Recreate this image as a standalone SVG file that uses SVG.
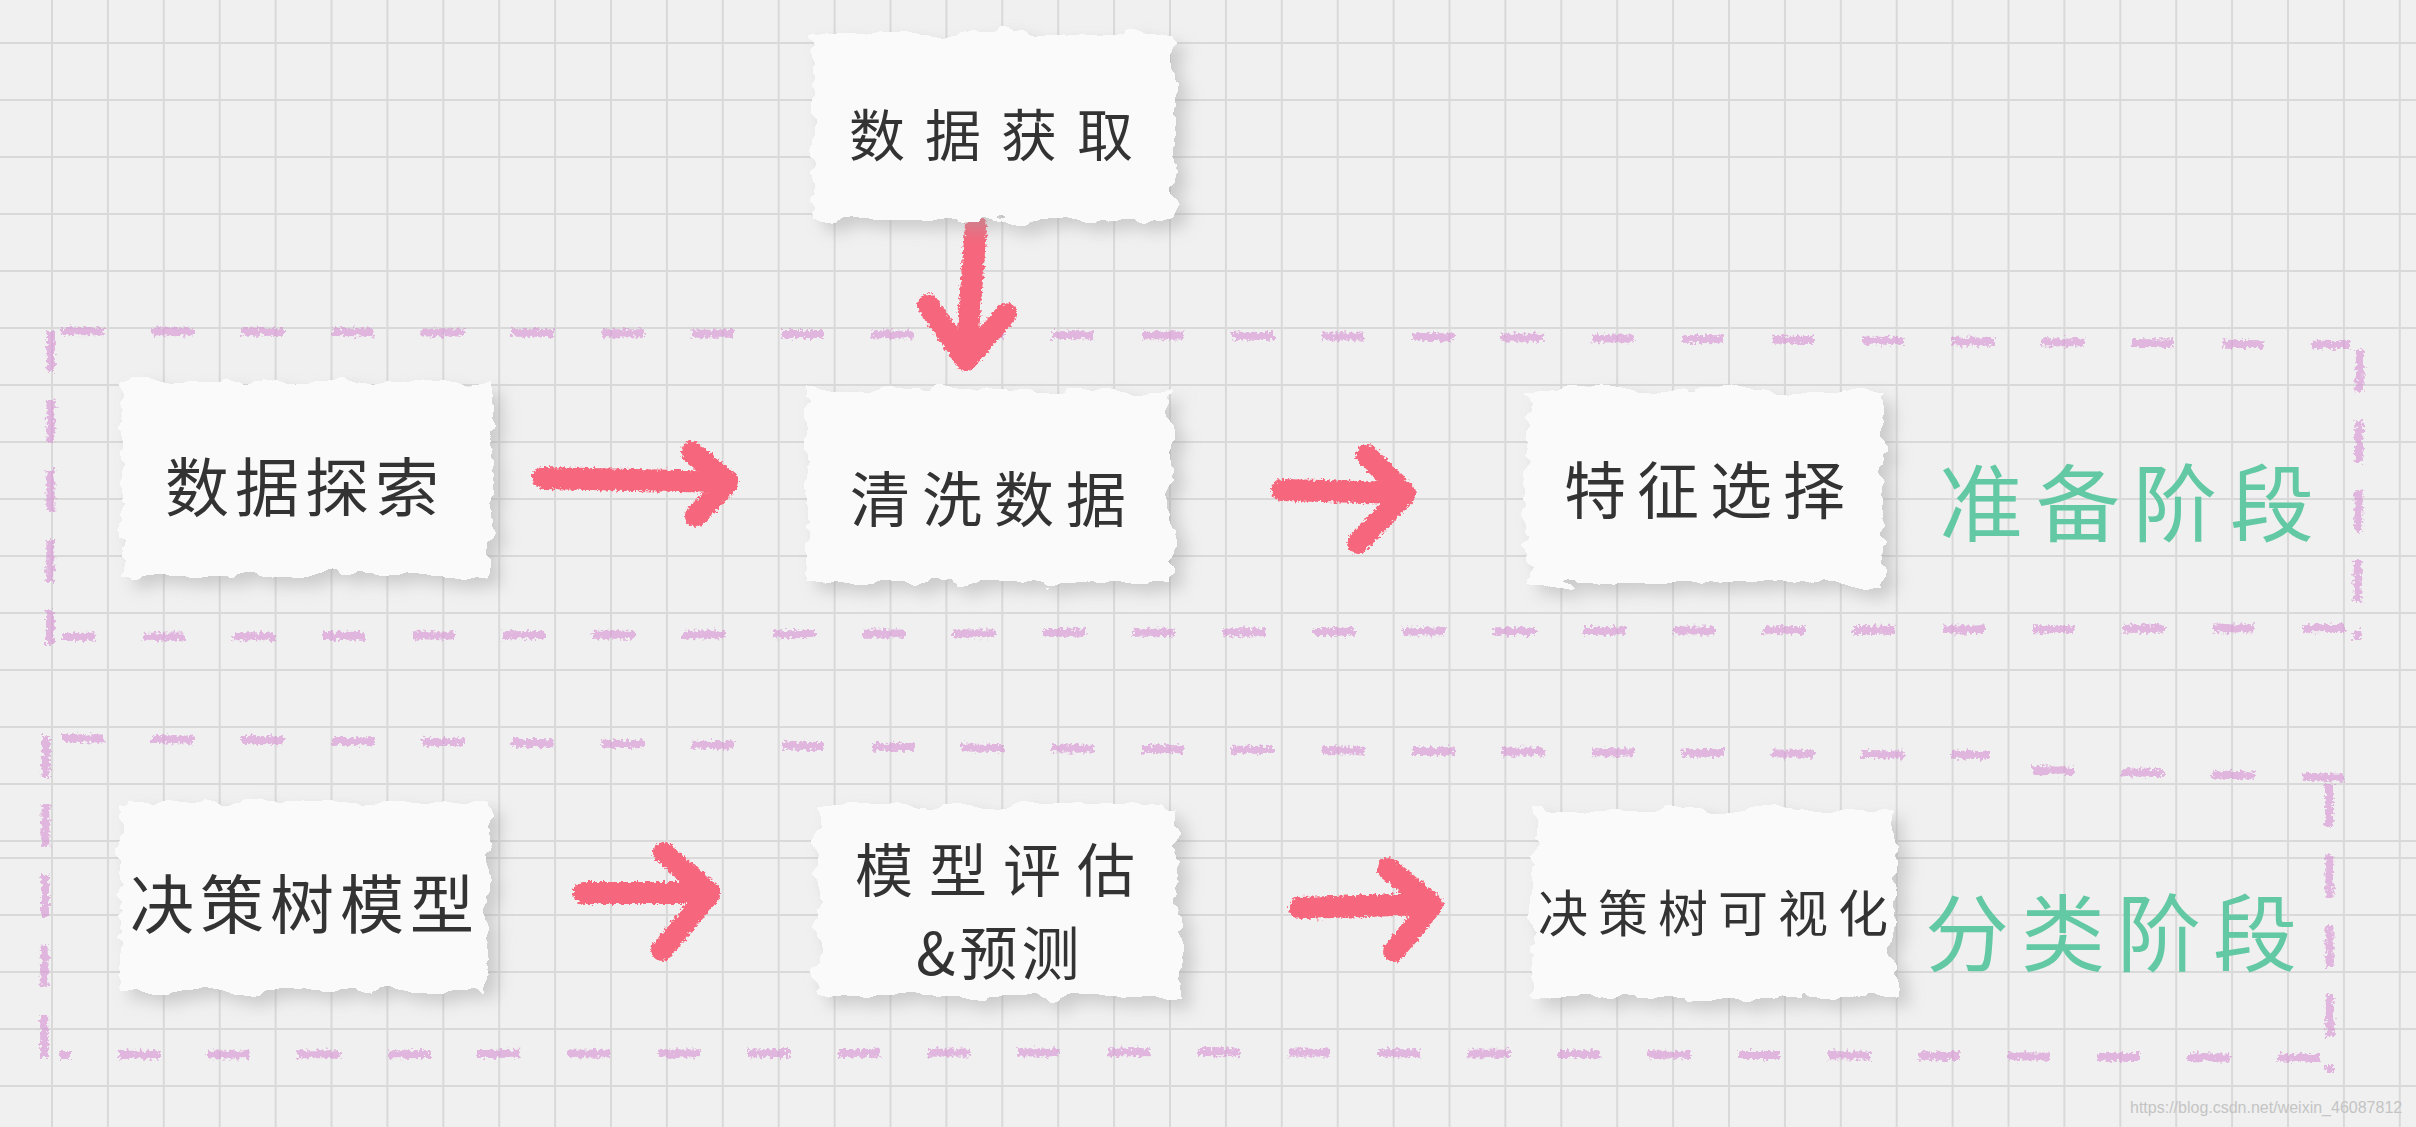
<svg xmlns="http://www.w3.org/2000/svg" width="2416" height="1127" viewBox="0 0 2416 1127">
<defs>
<style>
.paper{fill:#fbfafb;}
.lbl{font-family:"Noto Sans CJK SC","Noto Sans",sans-serif;fill:#333;font-weight:400;dominant-baseline:central;}
.stage{font-family:"Noto Sans CJK SC","Noto Sans",sans-serif;fill:#62c9a4;dominant-baseline:central;}
.arrow{fill:none;stroke:#f6667c;stroke-width:22;stroke-linecap:round;stroke-linejoin:round;}
.dash{fill:none;stroke:#d68fd2;stroke-width:8;stroke-opacity:0.6;stroke-linecap:butt;}
.dh{stroke-dasharray:42 48;}
.dv{stroke-dasharray:42 28;}
.wm{font-family:"Liberation Sans",Arial,sans-serif;fill:#c4c4c4;font-size:16px;}
</style>
<pattern id="gridA" x="51" y="42" width="55.9" height="57" patternUnits="userSpaceOnUse">
<path d="M1 0V57M0 1H55.9" stroke="#d9d9d9" stroke-width="2" fill="none"/>
</pattern>
<pattern id="gridB" x="51" y="2" width="55.9" height="57" patternUnits="userSpaceOnUse">
<path d="M1 0V57M0 1H55.9" stroke="#d9d9d9" stroke-width="2" fill="none"/>
</pattern>
<filter id="torn" x="-15%" y="-15%" width="135%" height="140%">
<feTurbulence type="fractalNoise" baseFrequency="0.025 0.05" numOctaves="3" seed="4" result="n"/>
<feDisplacementMap in="SourceGraphic" in2="n" scale="22" xChannelSelector="R" yChannelSelector="G" result="d"/>
<feGaussianBlur in="d" stdDeviation="8" result="b"/>
<feOffset in="b" dx="10" dy="9" result="o"/>
<feColorMatrix in="o" type="matrix" values="0 0 0 0 0.35  0 0 0 0 0.35  0 0 0 0 0.35  0 0 0 0.45 0" result="s"/>
<feMerge><feMergeNode in="s"/><feMergeNode in="d"/></feMerge>
</filter>
<filter id="crayon" x="-10%" y="-10%" width="120%" height="120%">
<feTurbulence type="fractalNoise" baseFrequency="0.35" numOctaves="2" seed="2" result="n"/>
<feDisplacementMap in="SourceGraphic" in2="n" scale="7" xChannelSelector="R" yChannelSelector="G"/>
</filter>
<filter id="scrib" x="-5%" y="-20%" width="110%" height="140%">
<feTurbulence type="fractalNoise" baseFrequency="0.3" numOctaves="2" seed="7" result="n"/>
<feDisplacementMap in="SourceGraphic" in2="n" scale="9" xChannelSelector="R" yChannelSelector="G"/>
</filter>
</defs>

<rect width="2416" height="1127" fill="#f0f0f0"/>
<rect x="0" y="0" width="2416" height="857" fill="url(#gridA)"/>
<rect x="0" y="857" width="2416" height="270" fill="url(#gridB)"/>

<g id="stage-borders" filter="url(#scrib)">
<path class="dash dh" d="M62 331 L1300 336 L1700 339 L2350 345"/>
<path class="dash dv" d="M2360 350 L2357 640"/>
<path class="dash dh" d="M2345 628 L1300 632 L62 637"/>
<path class="dash dv" d="M51 330 L50 645"/>
<path class="dash dh" d="M62 738 L1000 748 L1990 755"/>
<path class="dash dh" d="M2032 770 L2350 778"/>
<path class="dash dv" d="M2329 785 L2330 1072"/>
<path class="dash dh" d="M2320 1058 L1200 1052 L60 1055"/>
<path class="dash dv" d="M46 735 L44 1068"/>
</g>

<g id="connectors" filter="url(#crayon)">
<path class="arrow" d="M976 226 L966 358 M928 305 L966 360 L1006 314"/>
<path class="arrow" d="M543 478 L726 482 M692 452 L728 482 L696 516"/>
<path class="arrow" d="M1282 490 L1402 493 M1367 455 L1405 494 L1358 543"/>
<path class="arrow" d="M584 893 L706 893 M664 853 L710 893 L662 950"/>
<path class="arrow" d="M1300 908 L1428 904 M1388 868 L1432 905 L1394 951"/>
</g>

<g id="node-acquire">
<rect class="paper" x="812" y="32" width="362" height="188" filter="url(#torn)"/>
<text class="lbl" x="849" y="131" font-size="56" letter-spacing="20">数据获取</text>
</g>
<g id="node-explore">
<rect class="paper" x="122" y="382" width="370" height="194" filter="url(#torn)"/>
<text class="lbl" x="165" y="483" font-size="64" letter-spacing="6">数据探索</text>
</g>
<g id="node-clean">
<rect class="paper" x="806" y="388" width="364" height="194" filter="url(#torn)"/>
<text class="lbl" x="850" y="495" font-size="60" letter-spacing="12">清洗数据</text>
</g>
<g id="node-feature">
<rect class="paper" x="1525" y="390" width="358" height="193" filter="url(#torn)"/>
<text class="lbl" x="1564" y="487" font-size="62" letter-spacing="11">特征选择</text>
</g>
<g id="node-model">
<rect class="paper" x="120" y="802" width="368" height="190" filter="url(#torn)"/>
<text class="lbl" x="130" y="900" font-size="64" letter-spacing="6">决策树模型</text>
</g>
<g id="node-eval">
<rect class="paper" x="818" y="806" width="360" height="190" filter="url(#torn)"/>
<text class="lbl" x="855" y="867" font-size="58" letter-spacing="16">模型评估</text>
<text class="lbl" x="916" y="950" font-size="58" letter-spacing="4">&amp;预测</text>
</g>
<g id="node-visual">
<rect class="paper" x="1533" y="810" width="362" height="188" filter="url(#torn)"/>
<text class="lbl" x="1538" y="910" font-size="50" letter-spacing="10">决策树可视化</text>
</g>

<g id="stage-labels">
<text class="stage" x="1939" y="498" font-size="84" letter-spacing="13">准备阶段</text>
<text class="stage" x="1925" y="928" font-size="84" letter-spacing="12">分类阶段</text>
</g>

<text class="wm" x="2130" y="1113">https://blog.csdn.net/weixin_46087812</text>
</svg>
